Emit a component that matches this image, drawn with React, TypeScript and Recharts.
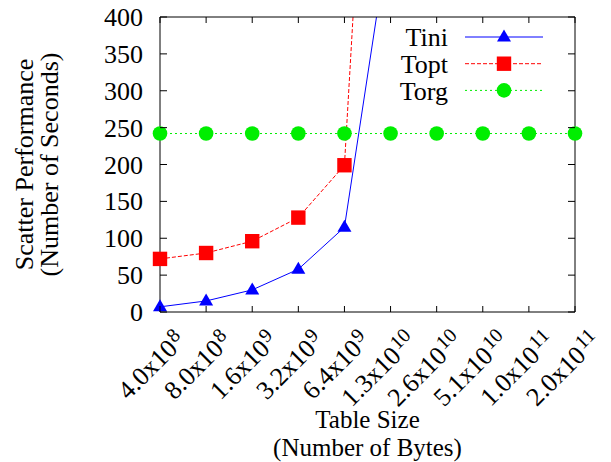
import { Legend, Line, LineChart, XAxis, YAxis } from "recharts";

const tableSizes = ["4.0", "8.0", "1.6", "3.2", "6.4", "1.3", "2.6", "5.1", "1.0", "2.0"];
const sizeExponents = [8, 8, 9, 9, 9, 10, 10, 10, 11, 11];
const tiniSeconds = [7, 15, 30, 58, 115, 525, null, null, null, null];
const toptSeconds = [72, 80, 96, 128, 199, 1280, null, null, null, null];
const torgSeconds = [242, 242, 242, 242, 242, 242, 242, 242, 242, 242];
const secondTicks = [0, 50, 100, 150, 200, 250, 300, 350, 400];

const FONT = "'Liberation Serif', 'DejaVu Serif', serif";
const FONT_SIZE = 26;
const TICK_LEN = 7;

const inRange = (v: number | null) => (v != null && v <= 400 ? v : null);

const data = tableSizes.map((mantissa, i) => ({
  size: `${mantissa}x10^${sizeExponents[i]}`,
  tini: tiniSeconds[i],
  topt: toptSeconds[i],
  torg: torgSeconds[i],
  tiniMark: inRange(tiniSeconds[i]),
  toptMark: inRange(toptSeconds[i]),
}));

const seriesStyle: Record<string, { color: string; dash?: string; marker: string }> = {
  tini: { color: "#0000ff", marker: "triangle" },
  topt: { color: "#ff0000", dash: "4 2", marker: "square" },
  torg: { color: "#00ee00", dash: "2 3", marker: "circle" },
};

function marker(kind: string, cx: number, cy: number, color: string, key?: string) {
  if (kind === "triangle") {
    return (
      <polygon
        key={key}
        points={`${cx},${cy - 7.5} ${cx - 7},${cy + 4.5} ${cx + 7},${cy + 4.5}`}
        fill={color}
      />
    );
  }
  if (kind === "square") {
    return <rect key={key} x={cx - 7.2} y={cy - 7.2} width={14.4} height={14.4} fill={color} />;
  }
  return <circle key={key} cx={cx} cy={cy} r={7.3} fill={color} />;
}

const markerDot = (kind: string, color: string) => (props: any) => {
  const { cx, cy, index } = props;
  if (cx == null || cy == null) return <g key={`m-${index}`} />;
  return marker(kind, cx, cy, color, `m-${index}`);
};

// rotated size label, mantissa x 10 with a raised exponent
function SizeTick({ x, y, payload }: any) {
  const [base, exp] = String(payload.value).split("^");
  const ax = x + 27;
  const ay = y + 30;
  return (
    <g>
      <line x1={x} y1={y} x2={x} y2={y - TICK_LEN + 1} stroke="#000" />
      <text
        x={ax}
        y={ay}
        transform={`rotate(-45 ${ax} ${ay})`}
        textAnchor="end"
        fontFamily={FONT}
        fontSize={FONT_SIZE}
        fill="#000"
      >
        {base}
        <tspan fontSize={20} dx={1.5} dy={-8}>
          {exp}
        </tspan>
      </text>
    </g>
  );
}

function TopTick({ x, y }: any) {
  return <line x1={x} y1={y} x2={x} y2={y + TICK_LEN - 1} stroke="#000" />;
}

function SecondsTick({ x, y, payload }: any) {
  return (
    <g>
      <line x1={x} y1={y} x2={x + TICK_LEN} y2={y} stroke="#000" />
      <text
        x={x - 17}
        y={y}
        dy="0.35em"
        textAnchor="end"
        fontFamily={FONT}
        fontSize={FONT_SIZE}
        fill="#000"
      >
        {payload.value}
      </text>
    </g>
  );
}

function RightTick({ x, y }: any) {
  return <line x1={x} y1={y} x2={x - TICK_LEN} y2={y} stroke="#000" />;
}

function YTitle(props: any) {
  const vb = props.viewBox ?? { x: 159, y: 17, width: 1, height: 295 };
  const cy = vb.y + vb.height / 2;
  return (
    <g fontFamily={FONT} fontSize={FONT_SIZE} fill="#000">
      <text x={33} y={cy} textAnchor="middle" transform={`rotate(-90 33 ${cy})`}>
        Scatter Performance
      </text>
      <text x={58} y={cy} textAnchor="middle" transform={`rotate(-90 58 ${cy})`}>
        (Number of Seconds)
      </text>
    </g>
  );
}

function XTitle(props: any) {
  const vb = props.viewBox ?? { x: 160, y: 312, width: 415, height: 1 };
  const cx = vb.x + vb.width / 2;
  return (
    <g fontFamily={FONT} fontSize={25} fill="#000">
      <text x={cx} y={428} textAnchor="middle">
        Table Size
      </text>
      <text x={cx} y={456} textAnchor="middle">
        (Number of Bytes)
      </text>
    </g>
  );
}

function SeriesKey({ payload }: any) {
  const items = (payload ?? []).filter((p: any) => seriesStyle[p.dataKey]);
  return (
    <svg width={200} height={90} style={{ display: "block" }}>
      {items.map((entry: any, i: number) => {
        const s = seriesStyle[entry.dataKey];
        const cy = 17 + i * 26.7;
        return (
          <g key={entry.dataKey}>
            <text
              x={58}
              y={cy}
              dy="0.35em"
              textAnchor="end"
              fontFamily={FONT}
              fontSize={FONT_SIZE}
              fill="#000"
            >
              {entry.value}
            </text>
            <line x1={75} x2={153} y1={cy} y2={cy} stroke={s.color} strokeDasharray={s.dash} />
            {marker(s.marker, 114, cy, s.color)}
          </g>
        );
      })}
    </svg>
  );
}

export default function App() {
  return (
    <div style={{ width: 611, height: 462, background: "#fff" }}>
      <style>{"body{margin:0}"}</style>
      <LineChart
        width={611}
        height={462}
        data={data}
        margin={{ top: 16, right: 35, bottom: 149, left: 159 }}
      >
        <XAxis
          dataKey="size"
          height={1}
          tickSize={0}
          tickMargin={0}
          tickLine={false}
          axisLine={{ stroke: "#000" }}
          tick={<SizeTick />}
          interval={0}
          label={{ content: XTitle }}
        />
        <XAxis
          xAxisId="top"
          dataKey="size"
          orientation="top"
          height={1}
          tickSize={0}
          tickMargin={0}
          tickLine={false}
          axisLine={{ stroke: "#000" }}
          tick={<TopTick />}
          interval={0}
        />
        <YAxis
          type="number"
          domain={[0, 400]}
          allowDataOverflow
          ticks={secondTicks}
          width={1}
          tickSize={0}
          tickMargin={0}
          tickLine={false}
          axisLine={{ stroke: "#000" }}
          tick={<SecondsTick />}
          interval={0}
          label={{ content: YTitle }}
        />
        <YAxis
          yAxisId="right"
          orientation="right"
          type="number"
          domain={[0, 400]}
          ticks={secondTicks}
          width={1}
          tickSize={0}
          tickMargin={0}
          tickLine={false}
          axisLine={{ stroke: "#000" }}
          tick={<RightTick />}
          interval={0}
        />
        <Legend
          layout="horizontal"
          verticalAlign="middle"
          align="center"
          wrapperStyle={{ top: 20, left: 390, width: 200, height: 90 }}
          content={<SeriesKey />}
        />
        <Line
          dataKey="tini"
          name="Tini"
          stroke={seriesStyle.tini.color}
          strokeWidth={1}
          dot={false}
          activeDot={false}
          isAnimationActive={false}
        />
        <Line
          dataKey="topt"
          name="Topt"
          stroke={seriesStyle.topt.color}
          strokeDasharray={seriesStyle.topt.dash}
          strokeWidth={1}
          dot={false}
          activeDot={false}
          isAnimationActive={false}
        />
        <Line
          dataKey="torg"
          name="Torg"
          xAxisId="top"
          yAxisId="right"
          stroke={seriesStyle.torg.color}
          strokeDasharray={seriesStyle.torg.dash}
          strokeWidth={1}
          dot={markerDot("circle", seriesStyle.torg.color)}
          activeDot={false}
          isAnimationActive={false}
        />
        <Line
          dataKey="tiniMark"
          xAxisId="top"
          yAxisId="right"
          stroke="none"
          legendType="none"
          dot={markerDot("triangle", seriesStyle.tini.color)}
          activeDot={false}
          isAnimationActive={false}
        />
        <Line
          dataKey="toptMark"
          xAxisId="top"
          yAxisId="right"
          stroke="none"
          legendType="none"
          dot={markerDot("square", seriesStyle.topt.color)}
          activeDot={false}
          isAnimationActive={false}
        />
      </LineChart>
    </div>
  );
}
